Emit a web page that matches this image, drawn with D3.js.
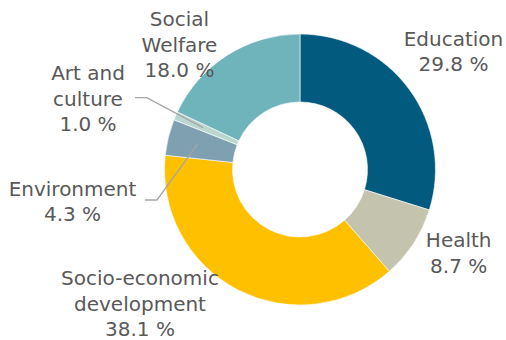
<!DOCTYPE html>
<html><head><meta charset="utf-8">
<script src="https://cdn.jsdelivr.net/npm/d3@7"></script>
<style>body{margin:0;background:#fff}svg{display:block}</style>
</head><body>
<script>
const categories = ["Education","Health","Socio-economic development","Environment","Art and culture","Social Welfare"];
const values = [29.8, 8.7, 38.1, 4.3, 1.0, 18.0];
const colors = ["#025b7e","#c4c3ae","#ffc000","#7ea0b1","#bbd6cf","#70b4bb"];
const labelLines = [["Education"],["Health"],["Socio-economic","development"],["Environment"],["Art and","culture"],["Social","Welfare"]];
const labelPos = [[453.5,45.7],[458.7,247.3],[140,285],[72.5,195.7],[88,80],[179.5,26]];
const leaders = {3:[[145,200],[157,200]],4:[[135,97.7],[146.7,97.7]]};

const W=506,H=340,cx=300,cy=169.5,R=135.5,r=67.5;
const svg=d3.select("body").append("svg").attr("width",W).attr("height",H);
const g=svg.append("g").attr("transform",`translate(${cx},${cy})`);
const pie=d3.pie().sort(null).value(d=>d)(values);
const arc=d3.arc().innerRadius(r).outerRadius(R);
g.selectAll("path").data(pie).join("path")
 .attr("d",arc).attr("fill",(d,i)=>colors[i]).attr("stroke","#fff").attr("stroke-width",0.6);

// leader lines: end inside the slice at mid-angle
const leaderArc=d3.arc().innerRadius(R*0.78).outerRadius(R*0.78);
Object.entries(leaders).forEach(([k,pts])=>{
  const i=+k; const c=leaderArc.centroid(pie[i]);
  const end=[cx+c[0],cy+c[1]];
  svg.append("polyline").attr("points",[...pts,end].map(p=>p.join(",")).join(" "))
    .attr("fill","none").attr("stroke","#a6a6a6").attr("stroke-width",1.3);
});

const lh=25.5;
categories.forEach((c,i)=>{
  const lines=[...labelLines[i], d3.format(".1f")(values[i])+" %"];
  const t=svg.append("text").attr("x",labelPos[i][0]).attr("y",labelPos[i][1])
    .attr("text-anchor","middle").attr("font-family","DejaVu Sans").attr("font-size",20)
    .attr("fill","#595959");
  lines.forEach((l,j)=>t.append("tspan").attr("x",labelPos[i][0]).attr("y",labelPos[i][1]+j*lh).text(l));
});
</script>
</body></html>
